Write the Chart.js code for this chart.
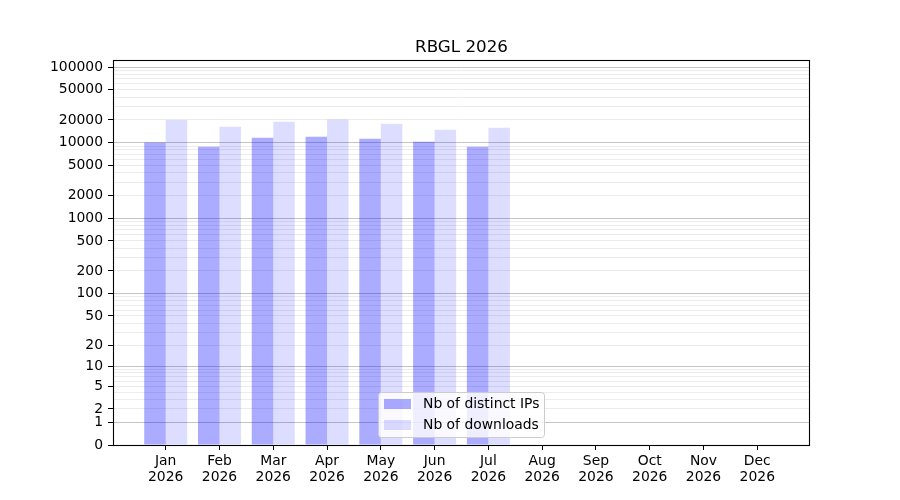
<!DOCTYPE html>
<html>
<head>
<meta charset="utf-8">
<script src="https://cdn.jsdelivr.net/npm/chart.js@4/dist/chart.umd.min.js"></script>
<style>
  html, body { margin: 0; padding: 0; background: #fff; }
  #wrap { width: 900px; height: 500px; }
</style>
</head>
<body>
<div id="wrap"><canvas id="dlChart" width="900" height="500"></canvas></div>
<script>
// data
const months = ['Jan', 'Feb', 'Mar', 'Apr', 'May', 'Jun', 'Jul', 'Aug', 'Sep', 'Oct', 'Nov', 'Dec'];
const year = '2026';
const distinctIPs = [10050, 8830, 11600, 11950, 11250, 10250, 8830];
const downloads = [20000, 16200, 18900, 20200, 17800, 14800, 15700];
const yLabelTicks = [0, 1, 2, 5, 10, 20, 50, 100, 200, 500, 1000, 2000, 5000, 10000, 20000, 50000, 100000];
const yMajorTicks = [1, 10, 100, 1000, 10000, 100000];

// minor grid values 2..9 x each decade
const yMinorTicks = [];
for (let k = 0; k <= 4; k++) {
    for (let d = 2; d <= 9; d++) yMinorTicks.push(d * Math.pow(10, k));
}
const yAllTicks = Array.from(new Set([0].concat(yMajorTicks, yMinorTicks, yLabelTicks))).sort((a, b) => a - b);

// y scale mapped as log10(1 + v)
class Log1pScale extends Chart.LinearScale {
    configure() {
        super.configure();
        this._t0 = Math.log10(1 + this.min);
        this._t1 = Math.log10(1 + this.max);
    }
    getPixelForValue(value) {
        const t = Math.log10(1 + Math.max(0, value));
        return this.getPixelForDecimal((t - this._t0) / (this._t1 - this._t0));
    }
    getValueForPixel(pixel) {
        const d = this.getDecimalForPixel(pixel);
        return Math.pow(10, this._t0 + d * (this._t1 - this._t0)) - 1;
    }
}
Log1pScale.id = 'log1p';
Log1pScale.defaults = Chart.LinearScale.defaults;
Chart.register(Log1pScale);

Chart.defaults.font.family = 'DejaVu Sans';
Chart.defaults.font.size = 13.9;
Chart.defaults.color = '#000';

// axes frame + legend box drawn like matplotlib
const framePlugin = {
    id: 'frame',
    afterDraw(chart) {
        const { ctx, chartArea: a } = chart;
        ctx.save();
        ctx.strokeStyle = '#000';
        ctx.lineWidth = 1.1;
        ctx.strokeRect(Math.round(a.left) + 0.5, Math.round(a.top) + 0.5,
            Math.round(a.right - a.left) - 1, Math.round(a.bottom - a.top));

        // legend
        const lx = 378, ly = 392, lw = 166, lh = 45;
        ctx.beginPath();
        ctx.roundRect(lx + 0.5, ly + 0.5, lw, lh, 3);
        ctx.fillStyle = 'rgba(255,255,255,0.8)';
        ctx.fill();
        ctx.strokeStyle = '#cccccc';
        ctx.lineWidth = 1;
        ctx.stroke();
        ctx.font = '13.9px "DejaVu Sans"';
        ctx.textBaseline = 'middle';
        chart.data.datasets.forEach((ds, i) => {
            const ry = ly + 7 + i * 21;
            ctx.fillStyle = ds.backgroundColor;
            ctx.fillRect(lx + 6, ry, 27, 10);
            ctx.fillStyle = '#000';
            ctx.fillText(ds.label, lx + 45, ry + 5.5);
        });
        ctx.restore();
    }
};

new Chart(document.getElementById('dlChart'), {
    type: 'bar',
    data: {
        datasets: [
            {
                label: 'Nb of distinct IPs',
                data: distinctIPs.map((v, i) => ({ x: i, y: v })),
                backgroundColor: 'rgba(0, 0, 255, 0.33)',
                borderWidth: 0,
                categoryPercentage: 0.8,
                barPercentage: 1.0
            },
            {
                label: 'Nb of downloads',
                data: downloads.map((v, i) => ({ x: i, y: v })),
                backgroundColor: 'rgba(0, 0, 255, 0.135)',
                borderWidth: 0,
                categoryPercentage: 0.8,
                barPercentage: 1.0
            }
        ]
    },
    options: {
        responsive: false,
        animation: false,
        layout: { padding: { left: 0, right: 90, top: 0, bottom: 0 } },
        scales: {
            x: {
                type: 'linear',
                offset: false,
                min: -0.98,
                max: 11.98,
                afterBuildTicks: (scale) => {
                    scale.ticks = months.map((m, i) => ({ value: i }));
                },
                afterFit: (scale) => { scale.height = 55; },
                ticks: {
                    autoSkip: false,
                    maxRotation: 0,
                    padding: 4,
                    font: { lineHeight: 1.12 },
                    callback: (v) => [months[v], year]
                },
                grid: {
                    offset: false,
                    drawOnChartArea: false,
                    tickLength: 5,
                    tickColor: '#000',
                    tickWidth: 1
                },
                border: { display: false }
            },
            y: {
                type: 'log1p',
                min: 0,
                max: 123900,
                afterBuildTicks: (scale) => {
                    scale.ticks = yAllTicks.map(v => ({ value: v }));
                },
                afterFit: (scale) => { scale.width = 113; },
                ticks: {
                    autoSkip: false,
                    padding: 5,
                    callback: (v) => yLabelTicks.includes(v) ? String(v) : ''
                },
                grid: {
                    tickLength: 5,
                    lineWidth: 1,
                    color: (c) => {
                        if (!c.tick || c.tick.value === 0) return 'rgba(0,0,0,0)';
                        return yMajorTicks.includes(c.tick.value) ? '#c4c4c4' : '#ececec';
                    },
                    tickColor: (c) => (c.tick && yLabelTicks.includes(c.tick.value)) ? '#000' : 'rgba(0,0,0,0)'
                },
                border: { display: false }
            }
        },
        plugins: {
            legend: { display: false },
            tooltip: { enabled: false },
            title: {
                display: true,
                text: 'RBGL ' + year,
                fullSize: false,
                color: '#000',
                font: { size: 16.7, weight: 'normal', lineHeight: 1.2 },
                padding: { top: 38, bottom: 2 }
            }
        }
    },
    plugins: [framePlugin]
});
</script>
</body>
</html>
